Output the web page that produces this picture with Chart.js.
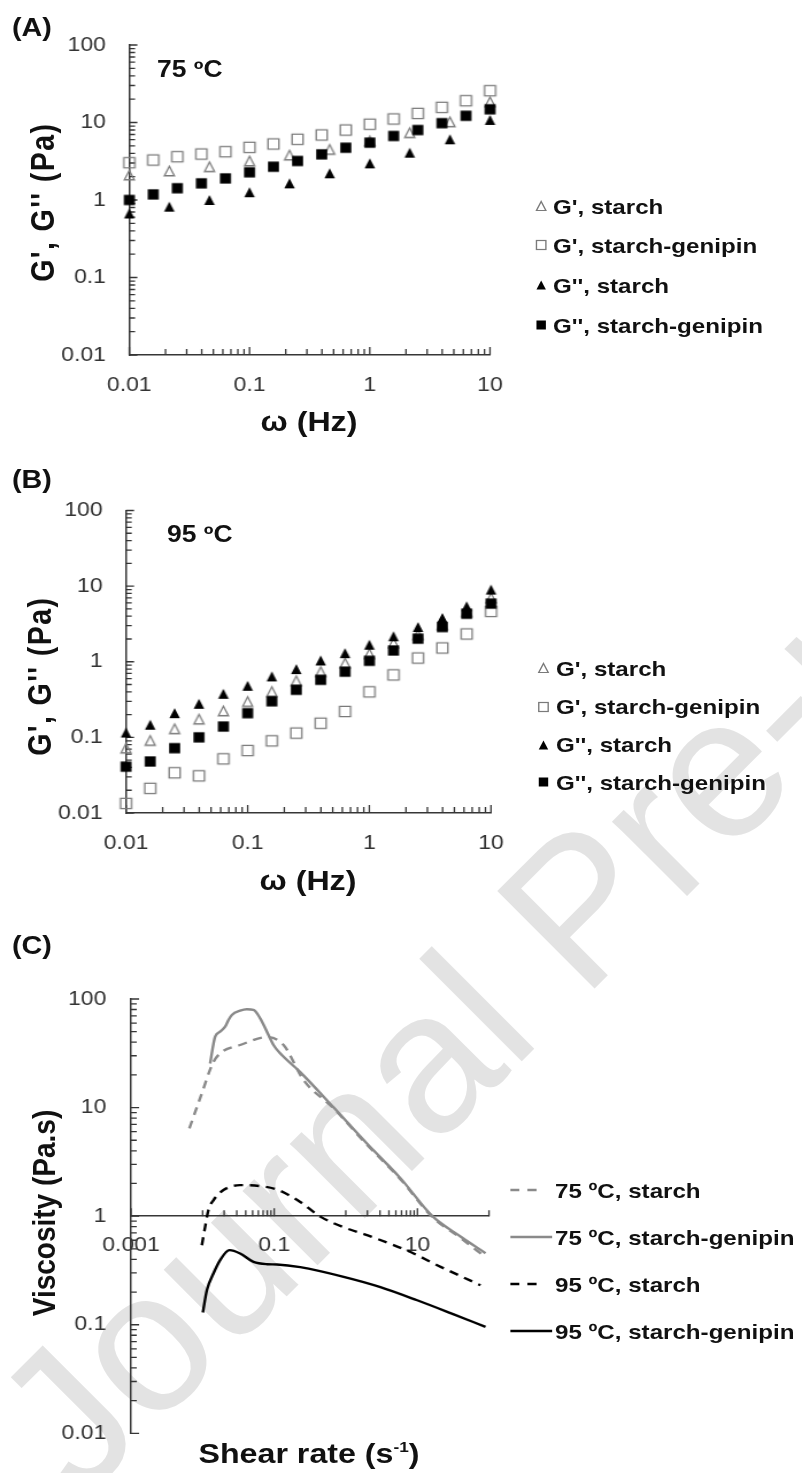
<!DOCTYPE html>
<html><head><meta charset="utf-8">
<script src="https://cdn.jsdelivr.net/npm/chart.js@4.4.1/dist/chart.umd.min.js"></script>
<style>
html,body{margin:0;padding:0;background:#fff;}
body{width:802px;height:1473px;position:relative;overflow:hidden;font-family:'Liberation Sans',Arial,Helvetica,sans-serif;}
#wm{position:absolute;left:80px;top:1334px;font-size:200px;line-height:200px;white-space:nowrap;color:#e3e3e3;transform-origin:0 169.3px;transform:rotate(-45deg);font-family:'Liberation Sans',Arial,sans-serif;}
#wrap{position:absolute;left:0;top:0;width:698px;height:1473px;transform-origin:0 0;}
canvas{position:absolute;left:0;top:0;}
.t{position:absolute;white-space:nowrap;line-height:1;color:#111;font-weight:bold;}
.lm{position:absolute;}
</style>
</head><body>
<div id="wm">Journal Pre-proof</div>
<div id="wrap">
<canvas id="cA" width="698" height="1473"></canvas>
<canvas id="cB" width="698" height="1473"></canvas>
<canvas id="cC" width="698" height="1473"></canvas>
</div>
<script>
// ---------------- DATA ----------------
const freqA5 = [0.01,0.0158,0.0251,0.0398,0.0631,0.1,0.158,0.251,0.398,0.631,1,1.58,2.51,3.98,6.31,10];
const freqA3 = [0.01,0.0215,0.0464,0.1,0.215,0.464,1,2.15,4.64,10];
const A_Gp_starch   = [2.1,2.37,2.69,3.19,3.8,4.5,5.8,7.4,10.2,18.5];
const A_Gp_genipin  = [3.03,3.28,3.62,3.92,4.2,4.78,5.28,6.07,6.9,8.0,9.5,11.1,13.1,15.7,19.1,25.7];
const A_Gpp_starch  = [0.67,0.82,1.0,1.26,1.64,2.21,2.97,4.08,6.07,10.8];
const A_Gpp_genipin = [1.0,1.18,1.42,1.64,1.9,2.28,2.69,3.19,3.88,4.73,5.49,6.7,8.0,9.8,12.2,14.8];

const freqB = [0.01,0.0158,0.0251,0.0398,0.0631,0.1,0.158,0.251,0.398,0.631,1,1.58,2.51,3.98,6.31,10];
const B_Gp_starch   = [0.072,0.091,0.13,0.174,0.224,0.298,0.404,0.56,0.74,0.96,1.28,1.77,2.28,3.09,4.6,7.0];
const B_Gp_genipin  = [0.0134,0.0212,0.034,0.031,0.052,0.067,0.09,0.114,0.154,0.22,0.40,0.67,1.12,1.52,2.33,4.63];
const B_Gpp_starch  = [0.116,0.147,0.209,0.278,0.377,0.481,0.64,0.80,1.04,1.30,1.68,2.17,2.88,3.79,5.4,9.0];
const B_Gpp_genipin = [0.041,0.048,0.072,0.10,0.139,0.209,0.30,0.426,0.578,0.74,1.03,1.41,2.02,2.88,4.32,5.87];

const C_x_75s = [0.00653,0.00923,0.01416,0.01857,0.0334,0.0791,0.135,0.257,0.668,1.94,5.78,16.2,39.9,89.3];
const C_y_75s = [6.43,12.2,26.3,32.5,37.7,44.6,37.7,17.9,9.9,4.6,2.19,0.98,0.63,0.42];
const C_x_75g = [0.01273,0.01496,0.01757,0.02065,0.02296,0.0256,0.0334,0.0415,0.0513,0.0637,0.0791,0.0977,0.121,0.231,0.668,1.94,5.78,16.2,39.9,89.3];
const C_y_75g = [25.5,45,50,55.6,64,71.2,78,80.4,79.2,66.4,50,37.7,31.6,21.2,10.1,4.71,2.24,1.0,0.65,0.456];
const C_x_95s = [0.00975,0.01084,0.01206,0.01416,0.01954,0.0334,0.0637,0.109,0.231,0.44,1.04,1.98,8.87,16.9,76];
const C_y_95s = [0.54,0.797,1.14,1.40,1.74,1.93,1.89,1.76,1.35,0.99,0.77,0.668,0.453,0.366,0.231];
const C_x_95g = [0.01007,0.01146,0.01416,0.01757,0.0237,0.0334,0.0513,0.0791,0.109,0.231,0.933,3.04,9.91,29,89.3];
const C_y_95g = [0.1295,0.208,0.296,0.393,0.486,0.453,0.379,0.361,0.359,0.339,0.276,0.222,0.168,0.128,0.0955];

const namesAB = ["G', starch", "G', starch-genipin", "G'', starch", "G'', starch-genipin"];
const namesC  = ["75 \u00baC, starch", "75 \u00baC, starch-genipin", "95 \u00baC, starch", "95 \u00baC, starch-genipin"];
const tickLabelsFreq = ['0.01','0.1','1','10'];
const tickLabelsG    = ['0.01','0.1','1','10','100'];
const tickLabelsShear = ['0.001','0.1','10'];
const tickLabelsVisc = ['0.01','0.1','1','10','100'];

// ---------------- LAYOUT ----------------
const S = 802/698;          // horizontal stretch of the reference
const W = 698, H = 1473;
document.getElementById('wrap').style.transform = 'scaleX(' + S + ')';
const AXIS = '#363636', TICKC = '#333333', GREY = '#8a8a8a', OPEN = '#7a7a7a';
const FONT = "'Liberation Sans', Arial, Helvetica, sans-serif";
Chart.defaults.font.family = FONT;

function decadeTicks(e0, e1) {
  const out = [];
  for (let e = e0; e < e1; e++) for (let k = 1; k < 10; k++) out.push(+(k * Math.pow(10, e)).toPrecision(3));
  out.push(Math.pow(10, e1));
  return out;
}
function same(a, b) { return Math.abs(Math.log10(a) - Math.log10(b)) < 1e-6; }
function labelCb(labels) { return v => { const m = labels.find(l => same(+l, v)); return m || ''; }; }

const tickPlugin = {
  id: 'inTicks',
  beforeDatasetsDraw(chart, args, o) {
    const {ctx, chartArea} = chart; const xs = chart.scales.x, ys = chart.scales.y;
    ctx.save(); ctx.strokeStyle = AXIS; ctx.lineWidth = 1.3; ctx.beginPath();
    const y0 = o.xAxisAt != null ? ys.getPixelForValue(o.xAxisAt) : chartArea.bottom;
    o.xTicks.forEach(v => { const p = xs.getPixelForValue(v); const L = o.xMajor.some(m => same(m, v)) ? 8 : 6; ctx.moveTo(p, y0); ctx.lineTo(p, y0 - L); });
    o.yTicks.forEach(v => { const p = ys.getPixelForValue(v); const L = o.yMajor.some(m => same(m, v)) ? 7 : 5; ctx.moveTo(chartArea.left, p); ctx.lineTo(chartArea.left + L, p); });
    ctx.stroke(); ctx.restore();
  }
};

function markerCanvas(shape, filled, w, h) {
  const c = document.createElement('canvas');
  const CW = Math.ceil(w) + 4, CH = Math.ceil(h) + 4; c.width = CW; c.height = CH;
  const g = c.getContext('2d'); const x0 = (CW - w) / 2, y0 = (CH - h) / 2;
  g.beginPath();
  if (shape === 'tri') { g.moveTo(CW / 2, y0); g.lineTo(x0 + w, y0 + h); g.lineTo(x0, y0 + h); g.closePath(); }
  else g.rect(x0, y0, w, h);
  if (filled) { g.fillStyle = '#000'; g.fill(); } else { g.strokeStyle = OPEN; g.lineWidth = 1.3; g.stroke(); }
  return c;
}
const mk = {
  triOpen: markerCanvas('tri', false, 10 / S, 9.5),
  sqOpen: markerCanvas('sq', false, 11 / S, 10.3),
  triFill: markerCanvas('tri', true, 10.5 / S, 10),
  sqFill: markerCanvas('sq', true, 11 / S, 10.3)
};
function pts(xs, ys) { return xs.map((x, i) => ({x, y: ys[i]})); }
function sds(label, xs, ys, style, order) {
  return {label, data: pts(xs, ys), pointStyle: style, pointRadius: 6, pointHoverRadius: 6, order, clip: false, showLine: false};
}
function logAxis(min, max, ticks, labels, pad, extra) {
  return Object.assign({
    type: 'logarithmic', min, max,
    grid: {display: false, drawTicks: false},
    border: {display: true, color: AXIS, width: 1.5},
    afterBuildTicks: s => { s.ticks = ticks.map(v => ({value: v, major: false})); },
    ticks: {autoSkip: false, maxRotation: 0, minRotation: 0, padding: pad, color: TICKC, font: {size: 20, family: FONT}, callback: labelCb(labels)}
  }, extra);
}
function baseOpts(area, scales, tickOpts) {
  return {
    responsive: false, animation: false, devicePixelRatio: 1, events: [],
    layout: {padding: {left: 0, top: area.top, right: W - area.right / S, bottom: area.bottomPad || 0}},
    plugins: {legend: {display: false}, tooltip: {enabled: false}, inTicks: tickOpts},
    scales
  };
}

// plot areas in reference pixel coords
const areaA = {left: 129.3, right: 490, top: 45, bottom: 355};
const areaB = {left: 126, right: 491, top: 510.5, bottom: 813};
const areaC = {left: 131, right: 489, top: 999, bottom: 1433.3};

const freqTicks = decadeTicks(-2, 1), gTicks = decadeTicks(-2, 2);
const shearTicks = [0.001].concat(decadeTicks(-2, -1).slice(0, 9), [0.1], decadeTicks(0, 1).slice(0, 9), [10, 100]);

function panelAB(id, area, dGpS, fGpS, dGpG, fGpG, dGppS, fGppS, dGppG, fGppG) {
  return new Chart(document.getElementById(id), {
    type: 'scatter',
    data: {datasets: [
      sds(namesAB[0], fGpS, dGpS, mk.triOpen, 4),
      sds(namesAB[1], fGpG, dGpG, mk.sqOpen, 3),
      sds(namesAB[2], fGppS, dGppS, mk.triFill, 2),
      sds(namesAB[3], fGppG, dGppG, mk.sqFill, 1)
    ]},
    options: baseOpts(area, {
      x: logAxis(0.01, 10, freqTicks, tickLabelsFreq, 18, {position: 'bottom', afterFit: s => { s.height = H - area.bottom; }}),
      y: logAxis(0.01, 100, gTicks, tickLabelsG, 20.3, {position: 'left', afterFit: s => { s.width = area.left / S; }})
    }, {xTicks: freqTicks, xMajor: [0.01, 0.1, 1, 10], yTicks: gTicks, yMajor: [0.01, 0.1, 1, 10, 100], xAxisAt: null}),
    plugins: [tickPlugin]
  });
}
panelAB('cA', areaA, A_Gp_starch, freqA3, A_Gp_genipin, freqA5, A_Gpp_starch, freqA3, A_Gpp_genipin, freqA5);
panelAB('cB', areaB, B_Gp_starch, freqB, B_Gp_genipin, freqB, B_Gpp_starch, freqB, B_Gpp_genipin, freqB);

function lds(label, xs, ys, color, dash, order) {
  return {label, data: pts(xs, ys), showLine: true, borderColor: color, borderWidth: 2.4, borderDash: dash,
    pointRadius: 0, fill: false, cubicInterpolationMode: 'monotone', clip: false, order};
}
const viscTicks = decadeTicks(-2, 2);
new Chart(document.getElementById('cC'), {
  type: 'scatter',
  data: {datasets: [
    lds(namesC[0], C_x_75s, C_y_75s, GREY, [8, 6], 4),
    lds(namesC[1], C_x_75g, C_y_75g, GREY, [], 3),
    lds(namesC[2], C_x_95s, C_y_95s, '#000', [8, 6], 2),
    lds(namesC[3], C_x_95g, C_y_95g, '#000', [], 1)
  ]},
  options: baseOpts(Object.assign({}, areaC, {bottomPad: H - areaC.bottom}), {
    x: logAxis(0.001, 100, shearTicks, tickLabelsShear, 17.8, {position: {y: 1}}),
    y: logAxis(0.01, 100, viscTicks, tickLabelsVisc, 21.5, {position: 'left', afterFit: s => { s.width = areaC.left / S; }})
  }, {xTicks: shearTicks, xMajor: [0.001, 0.1, 10], yTicks: viscTicks, yMajor: [0.01, 0.1, 1, 10, 100], xAxisAt: 1}),
  plugins: [tickPlugin]
});

// ---------------- TEXT (HTML) ----------------
const wrap = document.getElementById('wrap');
function txt(html, x, cy, fs, opt) {
  opt = opt || {};
  const d = document.createElement('div'); d.className = 't'; d.innerHTML = html;
  d.style.fontSize = fs + 'px';
  if (opt.ls) d.style.letterSpacing = opt.ls + 'px';
  if (opt.rot) {
    d.style.width = '400px'; d.style.textAlign = 'center';
    d.style.left = (x / S - 200) + 'px'; d.style.top = (cy - fs / 2) + 'px';
    d.style.transform = 'rotate(-90deg)';
  } else if (opt.center) {
    d.style.width = '400px'; d.style.textAlign = 'center';
    d.style.left = (x / S - 200) + 'px'; d.style.top = (cy - 0.49 * fs) + 'px';
  } else {
    d.style.left = (x / S) + 'px'; d.style.top = (cy - 0.49 * fs) + 'px';
  }
  wrap.appendChild(d);
}
txt('(A)', 12, 27, 25); txt('(B)', 12, 479, 25); txt('(C)', 12, 945, 25);
txt('75 \u00baC', 157, 69, 23); txt('95 \u00baC', 167, 534, 23);
txt("G', G'' (Pa)", 42, 202, 28.5, {rot: true, ls: 1.4});
txt("G', G'' (Pa)", 40, 676, 28.5, {rot: true, ls: 1.4});
txt('Viscosity (Pa.s)', 45, 1213, 28, {rot: true});
txt('\u03c9 (Hz)', 309, 422, 28, {center: true});
txt('\u03c9 (Hz)', 308, 881, 28, {center: true});
txt('Shear rate (s<sup style="font-size:15px;vertical-align:0;position:relative;top:-11px">-1</sup>)', 309, 1454, 28, {center: true});

function svgMarker(kind, cx, cy) {
  const w = 8.2, h = 9; const ns = 'http://www.w3.org/2000/svg';
  const s = document.createElementNS(ns, 'svg'); s.setAttribute('width', 12); s.setAttribute('height', 12);
  s.setAttribute('class', 'lm'); s.style.left = (cx / S - 6) + 'px'; s.style.top = (cy - 6) + 'px';
  let el;
  if (kind.indexOf('tri') === 0) { el = document.createElementNS(ns, 'polygon'); el.setAttribute('points', `6,${6 - h / 2} ${6 + w / 2},${6 + h / 2} ${6 - w / 2},${6 + h / 2}`); }
  else { el = document.createElementNS(ns, 'rect'); el.setAttribute('x', 6 - w / 2); el.setAttribute('y', 6 - h / 2); el.setAttribute('width', w); el.setAttribute('height', h); }
  if (kind.indexOf('Fill') > 0) el.setAttribute('fill', '#000'); else { el.setAttribute('fill', 'none'); el.setAttribute('stroke', OPEN); el.setAttribute('stroke-width', 1.2); }
  s.appendChild(el); wrap.appendChild(s);
}
const kindsAB = ['triOpen', 'sqOpen', 'triFill', 'sqFill'];
const legA = [206, 245, 285, 325], legB = [668, 706.5, 744.5, 782];
namesAB.forEach((n, i) => { svgMarker(kindsAB[i], 541, legA[i]); txt(n, 553, legA[i], 21); });
namesAB.forEach((n, i) => { svgMarker(kindsAB[i], 543, legB[i]); txt(n, 556, legB[i], 21); });

const legC = [1190, 1237, 1284, 1331];
const lineStyles = [[GREY, true, 542], [GREY, false, 552], ['#000', true, 542], ['#000', false, 552]];
namesC.forEach((n, i) => {
  const ns = 'http://www.w3.org/2000/svg';
  const s = document.createElementNS(ns, 'svg'); s.setAttribute('width', 60); s.setAttribute('height', 8);
  s.setAttribute('class', 'lm'); s.style.left = (510 / S) + 'px'; s.style.top = (legC[i] - 4) + 'px';
  const l = document.createElementNS(ns, 'line');
  l.setAttribute('x1', 0); l.setAttribute('x2', (lineStyles[i][2] - 510) / S); l.setAttribute('y1', 4); l.setAttribute('y2', 4);
  l.setAttribute('stroke', lineStyles[i][0]); l.setAttribute('stroke-width', 2.4);
  if (lineStyles[i][1]) l.setAttribute('stroke-dasharray', '8 7');
  s.appendChild(l); wrap.appendChild(s);
  txt(n, 555, legC[i], 21);
});
</script>
</body></html>
